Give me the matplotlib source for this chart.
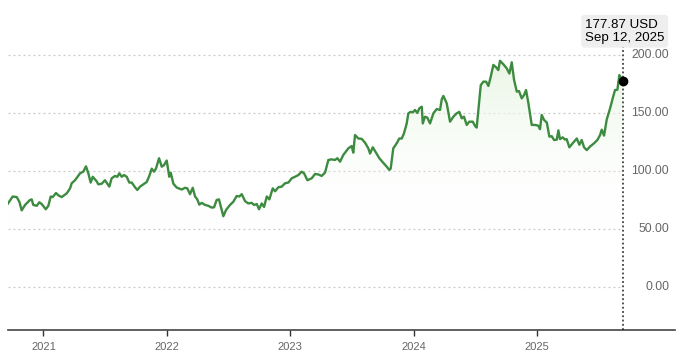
import matplotlib
matplotlib.use("Agg")
import matplotlib.pyplot as plt
import numpy as np
from matplotlib.patches import Polygon

plt.rcParams["font.family"] = ["Liberation Sans", "DejaVu Sans"]

# --- Data (decimal year, closing price in USD) ---
YEARS = [
    2020.713, 2020.751, 2020.784, 2020.805, 2020.824, 2020.851, 2020.891, 2020.905,
    2020.918, 2020.946, 2020.967, 2020.986, 2021.019, 2021.040, 2021.059, 2021.075,
    2021.102, 2021.121, 2021.148, 2021.189, 2021.216, 2021.229, 2021.256, 2021.297,
    2021.323, 2021.345, 2021.364, 2021.383, 2021.400, 2021.432, 2021.445, 2021.472,
    2021.499, 2021.518, 2021.534, 2021.553, 2021.580, 2021.599, 2021.615, 2021.635,
    2021.653, 2021.675, 2021.696, 2021.716, 2021.742, 2021.761, 2021.783, 2021.810,
    2021.837, 2021.858, 2021.878, 2021.896, 2021.912, 2021.937, 2021.959, 2021.977,
    2021.999, 2022.020, 2022.032, 2022.053, 2022.080, 2022.121, 2022.147, 2022.166,
    2022.188, 2022.210, 2022.229, 2022.247, 2022.263, 2022.283, 2022.310, 2022.336,
    2022.364, 2022.383, 2022.404, 2022.423, 2022.437, 2022.458, 2022.480, 2022.512,
    2022.539, 2022.566, 2022.588, 2022.607, 2022.634, 2022.660, 2022.688, 2022.707,
    2022.729, 2022.747, 2022.769, 2022.788, 2022.810, 2022.831, 2022.858, 2022.877,
    2022.904, 2022.931, 2022.958, 2022.985, 2023.012, 2023.039, 2023.066, 2023.093,
    2023.112, 2023.139, 2023.174, 2023.201, 2023.228, 2023.255, 2023.282, 2023.309,
    2023.336, 2023.363, 2023.382, 2023.404, 2023.430, 2023.471, 2023.498, 2023.511,
    2023.525, 2023.552, 2023.579, 2023.606, 2023.633, 2023.647, 2023.669, 2023.695,
    2023.722, 2023.750, 2023.782, 2023.803, 2023.814, 2023.835, 2023.863, 2023.884,
    2023.904, 2023.922, 2023.944, 2023.957, 2023.976, 2023.993, 2024.011, 2024.030,
    2024.046, 2024.066, 2024.074, 2024.092, 2024.111, 2024.133, 2024.160, 2024.187,
    2024.214, 2024.228, 2024.241, 2024.268, 2024.295, 2024.322, 2024.349, 2024.370,
    2024.390, 2024.408, 2024.430, 2024.451, 2024.479, 2024.498, 2024.511, 2024.544,
    2024.565, 2024.587, 2024.606, 2024.625, 2024.646, 2024.668, 2024.686, 2024.700,
    2024.727, 2024.754, 2024.776, 2024.795, 2024.814, 2024.836, 2024.854, 2024.876,
    2024.895, 2024.911, 2024.930, 2024.957, 2024.984, 2025.011, 2025.024, 2025.038,
    2025.057, 2025.079, 2025.100, 2025.119, 2025.138, 2025.160, 2025.173, 2025.186,
    2025.208, 2025.227, 2025.240, 2025.262, 2025.289, 2025.322, 2025.343, 2025.362,
    2025.381, 2025.403, 2025.429, 2025.462, 2025.489, 2025.511, 2025.524, 2025.543,
    2025.565, 2025.592, 2025.613, 2025.632, 2025.651, 2025.667, 2025.698,
]
PRICES = [
    72.0, 78.0, 77.5, 73.5, 66.0, 70.7, 75.0, 75.5,
    70.7, 70.0, 73.0, 71.5, 67.0, 70.0, 78.0, 77.5,
    81.0, 79.0, 77.5, 80.7, 85.0, 89.4, 92.0, 98.0,
    99.4, 104.0, 98.0, 90.0, 95.0, 91.0, 88.5, 89.0,
    92.0, 89.0, 86.5, 93.7, 95.7, 95.0, 98.0, 95.0,
    96.5, 95.0, 90.0, 90.0, 86.0, 83.6, 86.5, 88.5,
    90.5, 95.7, 102.0, 99.4, 102.0, 111.0, 103.7, 105.0,
    109.0, 95.0, 98.5, 89.0, 85.7, 84.0, 85.5, 85.0,
    80.0, 85.5, 78.0, 75.5, 71.0, 72.5, 70.7, 70.0,
    68.4, 68.7, 75.0, 75.5, 69.5, 61.0, 66.4, 70.7,
    73.5, 78.4, 78.0, 80.0, 74.0, 72.0, 72.5, 70.7,
    71.5, 67.0, 72.0, 69.0, 78.0, 75.5, 85.0, 82.5,
    86.0, 86.5, 89.4, 90.0, 93.7, 95.0, 96.5, 99.4,
    98.0, 92.0, 93.7, 97.4, 97.0, 95.7, 98.6, 109.5,
    110.0, 109.5, 111.0, 108.0, 113.8, 119.5, 121.5, 115.8,
    131.0, 128.0, 127.7, 124.4, 119.5, 115.0, 120.4, 115.8,
    111.0, 107.5, 103.7, 100.9, 102.0, 119.5, 123.9, 128.0,
    128.0, 132.5, 141.0, 149.7, 151.0, 150.5, 152.6, 150.0,
    154.0, 155.4, 141.0, 146.8, 146.0, 141.0, 149.7, 153.4,
    152.6, 161.8, 164.7, 158.4, 142.5, 146.8, 149.7, 151.0,
    145.4, 146.8, 139.7, 142.5, 142.5, 138.8, 137.4, 174.0,
    177.0, 177.0, 173.3, 181.3, 191.4, 189.4, 187.0, 195.0,
    192.0, 188.5, 184.0, 193.7, 178.4, 168.4, 168.9, 162.6,
    165.5, 169.8, 158.4, 139.7, 139.7, 139.0, 136.0, 148.3,
    144.0, 141.8, 129.6, 130.0, 126.7, 127.0, 135.0, 127.5,
    129.0, 127.0, 127.5, 120.4, 123.9, 128.0, 122.6, 126.7,
    120.4, 118.0, 121.0, 123.9, 126.7, 131.0, 135.6, 130.5,
    144.5, 154.0, 162.6, 169.8, 170.0, 182.7, 177.87,
]
GRID_VALUES = [0, 50, 100, 150, 200]
YEAR_TICKS = [2021, 2022, 2023, 2024, 2025]
LAST_LABEL = "177.87 USD\nSep 12, 2025"

LINE_COLOR = "#3d8b40"
GRID_COLOR = "#c8c8c8"
TEXT_COLOR = "#666666"

x = np.array(YEARS)
y = np.array(PRICES)
x_end = x[-1]

fig = plt.figure(figsize=(6.8, 3.57), dpi=100)
ax = fig.add_axes([8 / 680, 27 / 357, 667 / 680, 330 / 357])
ax.set_xlim(x[0], 2026.118)
ax.set_ylim(-37.1, 247.4)

# dotted horizontal grid stops at the last data point, labels sit to the right
ax.hlines(GRID_VALUES, x[0], x_end, colors=GRID_COLOR, linestyles=(0, (1.5, 2.5)),
          linewidth=0.9, zorder=1)
for v in GRID_VALUES:
    ax.text(2026.07, v, f"{v:.2f}", ha="right", va="center", fontsize=8.8,
            color=TEXT_COLOR)

# soft green gradient under the line
grad = np.linspace(0, 1, 256).reshape(-1, 1)
cmap = matplotlib.colors.LinearSegmentedColormap.from_list(
    "fade", [(1, 1, 1, 0), (0.90, 0.96, 0.88, 0.9)])
img = ax.imshow(grad, extent=[x[0], x_end, 50, 200], origin="lower",
                aspect="auto", cmap=cmap, zorder=2)
poly = Polygon(np.column_stack([np.r_[x, x_end, x[0]], np.r_[y, 40, 40]]),
               closed=True, transform=ax.transData)
img.set_clip_path(poly)

ax.plot(x, y, color=LINE_COLOR, linewidth=1.7, solid_joinstyle="round", zorder=3)

# marker for the latest price: dotted guide from the axis up to the label
ax.vlines(x_end, -37.1, 208, colors="#222222", linestyles=(0, (1.2, 1.6)),
          linewidth=1.1, zorder=3)
ax.plot([x_end], [y[-1]], "o", color="black", markersize=6, zorder=4)
ax.text(x_end - 0.31, 220.5, LAST_LABEL, ha="left", va="center", fontsize=9.6,
        color="black", linespacing=1.15,
        bbox=dict(boxstyle="round,pad=0.28", fc="#eeeeee", ec="none"))

ax.set_xticks(YEAR_TICKS)
ax.set_xticklabels([str(t) for t in YEAR_TICKS])
ax.set_yticks([])
ax.tick_params(axis="x", direction="out", length=4, width=1, colors="#333333",
               labelcolor=TEXT_COLOR, labelsize=8, pad=5)
for side in ("top", "right", "left"):
    ax.spines[side].set_visible(False)
ax.spines["bottom"].set_color("#444444")
ax.spines["bottom"].set_linewidth(1.2)
ax.patch.set_alpha(0)

fig.savefig("out.png", dpi=100)
